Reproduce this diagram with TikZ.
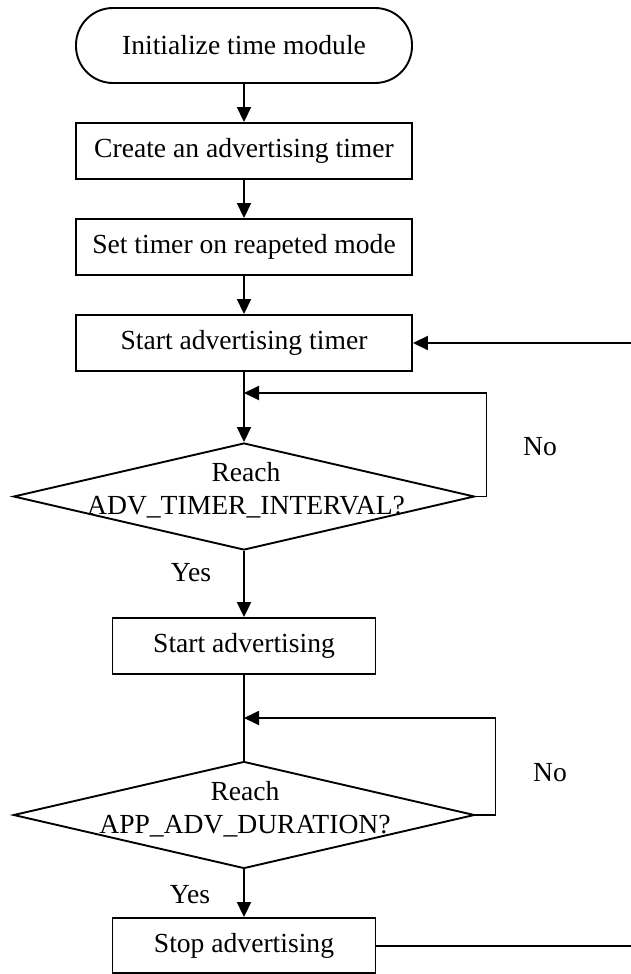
\documentclass[tikz,border=0pt]{standalone}
\usepackage{fontspec}
\setmainfont{Liberation Serif}
\usetikzlibrary{shapes.geometric,arrows.meta}
\begin{document}
\begin{tikzpicture}[x=1pt,y=-1pt,
  every node/.style={font=\fontsize{27.6}{33}\selectfont},
  box/.style={draw,line width=1.9pt,rectangle,minimum height=56pt,inner sep=0pt},
  term/.style={draw,line width=1.9pt,rectangle,rounded corners=37pt,minimum width=336pt,minimum height=75pt,inner sep=0pt},
  dec/.style={draw,line width=1.9pt,diamond,minimum width=461pt,minimum height=107pt,inner sep=0pt,shape aspect=4.3},
  conn/.style={line width=1.9pt},
  arr/.style={line width=1.9pt,-{Triangle[length=15pt,width=14pt]}},
  lbl/.style={inner sep=0pt,align=center}]
\useasboundingbox (0,0) rectangle (630,974);
\node[term] (t0) at (244,45.5) {Initialize time module};
\node[box,minimum width=336pt] (b1) at (244,151) {Create an advertising timer};
\node[box,minimum width=336pt] (b2) at (244,247) {Set timer on reapeted mode};
\node[box,minimum width=336pt] (b3) at (244,343) {Start advertising timer};
\node[dec] (d1) at (244,496.5) {};
\node[lbl] (d1t) at (246,490) {Reach\\ADV\_TIMER\_INTERVAL?};
\node[box,minimum width=263pt] (b4) at (244,646) {Start advertising};
\node[dec] (d2) at (244,815) {};
\node[lbl] (d2t) at (245,809) {Reach\\APP\_ADV\_DURATION?};
\node[box,minimum width=263pt,minimum height=55pt] (b5) at (244,945.5) {Stop advertising};
\node[lbl] (y1) at (191,573) {Yes};
\node[lbl] (y2) at (190,895) {Yes};
\node[lbl] (n1) at (540,447) {No};
\node[lbl] (n2) at (550,773) {No};
\coordinate (j1) at (244,393);
\coordinate (j2) at (244,718);
\coordinate (rin) at (632,343);
\coordinate (rout) at (632,946);
\draw[arr] (t0) -- (b1);
\draw[arr] (b1) -- (b2);
\draw[arr] (b2) -- (b3);
\draw[arr] (b3) -- (d1.north);
\draw[arr] (d1.east) -- ++(11,0) |- (j1);
\draw[arr] (d1.south) -- (b4.north);
\draw[conn] (b4.south) -- (d2.north);
\draw[arr] (d2.east) -- ++(20,0) |- (j2);
\draw[arr] (d2.south) -- (b5.north);
\draw[arr] (rin) -- (b3.east);
\draw[conn] (b5.east |- rout) -- (rout);
\end{tikzpicture}
\end{document}
